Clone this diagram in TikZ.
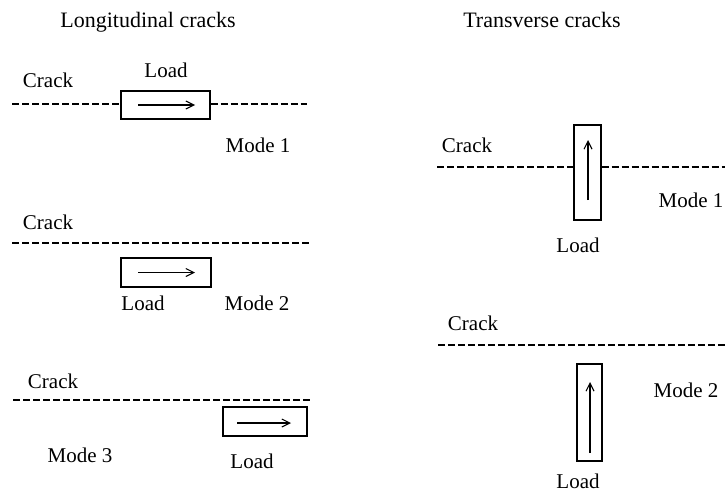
\documentclass[tikz,border=0pt]{standalone}
\usepackage{fontspec}
\setmainfont{Liberation Serif}
\usepackage{tikz}
\usetikzlibrary{arrows,arrows.meta}
\tikzset{crackline/.style={line width=1.1pt,dash pattern=on 7pt off 3pt}}
\tikzset{loadbox/.style={draw,line width=1.2pt,inner sep=0pt}}
\tikzset{loadarrow/.style={line width=1.1pt,-{Straight Barb[length=8pt,width=8pt]}}}
\tikzset{lbl/.style={anchor=base,inner sep=0pt,font=\fontsize{21}{24}\selectfont}}

\begin{document}
\begin{tikzpicture}[x=1pt,y=-1pt]
      \useasboundingbox (0,0) rectangle (725,492);
      \node [lbl,font=\fontsize{22}{26}\selectfont] (tlong) at (148, 28) {Longitudinal cracks};
      \node [lbl,font=\fontsize{22}{26}\selectfont] (ttrans) at (542, 28) {Transverse cracks};

      \node [loadbox,minimum width=89pt,minimum height=28pt] (b1) at (165.5, 105) {};
      \coordinate (c1a) at (12, 104);
      \coordinate (c1b) at (307, 104);
      \draw [crackline] (c1a) -- (c1a -| b1.west);
      \draw [crackline] (c1b -| b1.east) -- (c1b);
      \coordinate (a1s) at (138, 105);
      \coordinate (a1e) at (195, 105);
      \draw [loadarrow] (a1s) -- (a1e);
      \node [lbl] (crack1) at (48, 88) {Crack};
      \node [lbl] (load1) at (166, 78) {Load};
      \node [lbl] (mode1) at (258, 152) {Mode 1};

      \node [loadbox,minimum width=90pt,minimum height=29pt] (b2) at (166, 272.5) {};
      \coordinate (c2a) at (12, 243);
      \coordinate (c2b) at (310, 243);
      \draw [crackline] (c2a) -- (c2b);
      \coordinate (a2s) at (138, 272.5);
      \coordinate (a2e) at (195, 272.5);
      \draw [loadarrow] (a2s) -- (a2e);
      \node [lbl] (crack2) at (48, 229) {Crack};
      \node [lbl] (load2) at (143, 310) {Load};
      \node [lbl] (mode2) at (257, 310) {Mode 2};

      \node [loadbox,minimum width=84pt,minimum height=29pt] (b3) at (265, 421.5) {};
      \coordinate (c3a) at (13, 400);
      \coordinate (c3b) at (310, 400);
      \draw [crackline] (c3a) -- (c3b);
      \coordinate (a3s) at (237, 423);
      \coordinate (a3e) at (291, 423);
      \draw [loadarrow] (a3s) -- (a3e);
      \node [lbl] (crack3) at (53, 388) {Crack};
      \node [lbl] (mode3) at (80, 462) {Mode 3};
      \node [lbl] (load3) at (252, 468) {Load};

      \node [loadbox,minimum width=27pt,minimum height=95pt] (r1) at (587.5, 172.5) {};
      \coordinate (d1a) at (437, 167);
      \coordinate (d1b) at (725, 167);
      \draw [crackline] (d1a) -- (d1a -| r1.west);
      \draw [crackline] (d1b -| r1.east) -- (d1b);
      \coordinate (u1s) at (588, 200);
      \coordinate (u1e) at (588, 140);
      \draw [loadarrow] (u1s) -- (u1e);
      \node [lbl] (crack4) at (467, 152) {Crack};
      \node [lbl] (mode4) at (691, 207) {Mode 1};
      \node [lbl] (load4) at (578, 252) {Load};

      \node [loadbox,minimum width=25pt,minimum height=97pt] (r2) at (589.5, 412.5) {};
      \coordinate (d2a) at (438, 345);
      \coordinate (d2b) at (725, 345);
      \draw [crackline] (d2a) -- (d2b);
      \coordinate (u2s) at (590, 453);
      \coordinate (u2e) at (590, 382);
      \draw [loadarrow] (u2s) -- (u2e);
      \node [lbl] (crack5) at (473, 330) {Crack};
      \node [lbl] (mode5) at (686, 397) {Mode 2};
      \node [lbl] (load5) at (578, 488) {Load};
    \end{tikzpicture}
\end{document}
